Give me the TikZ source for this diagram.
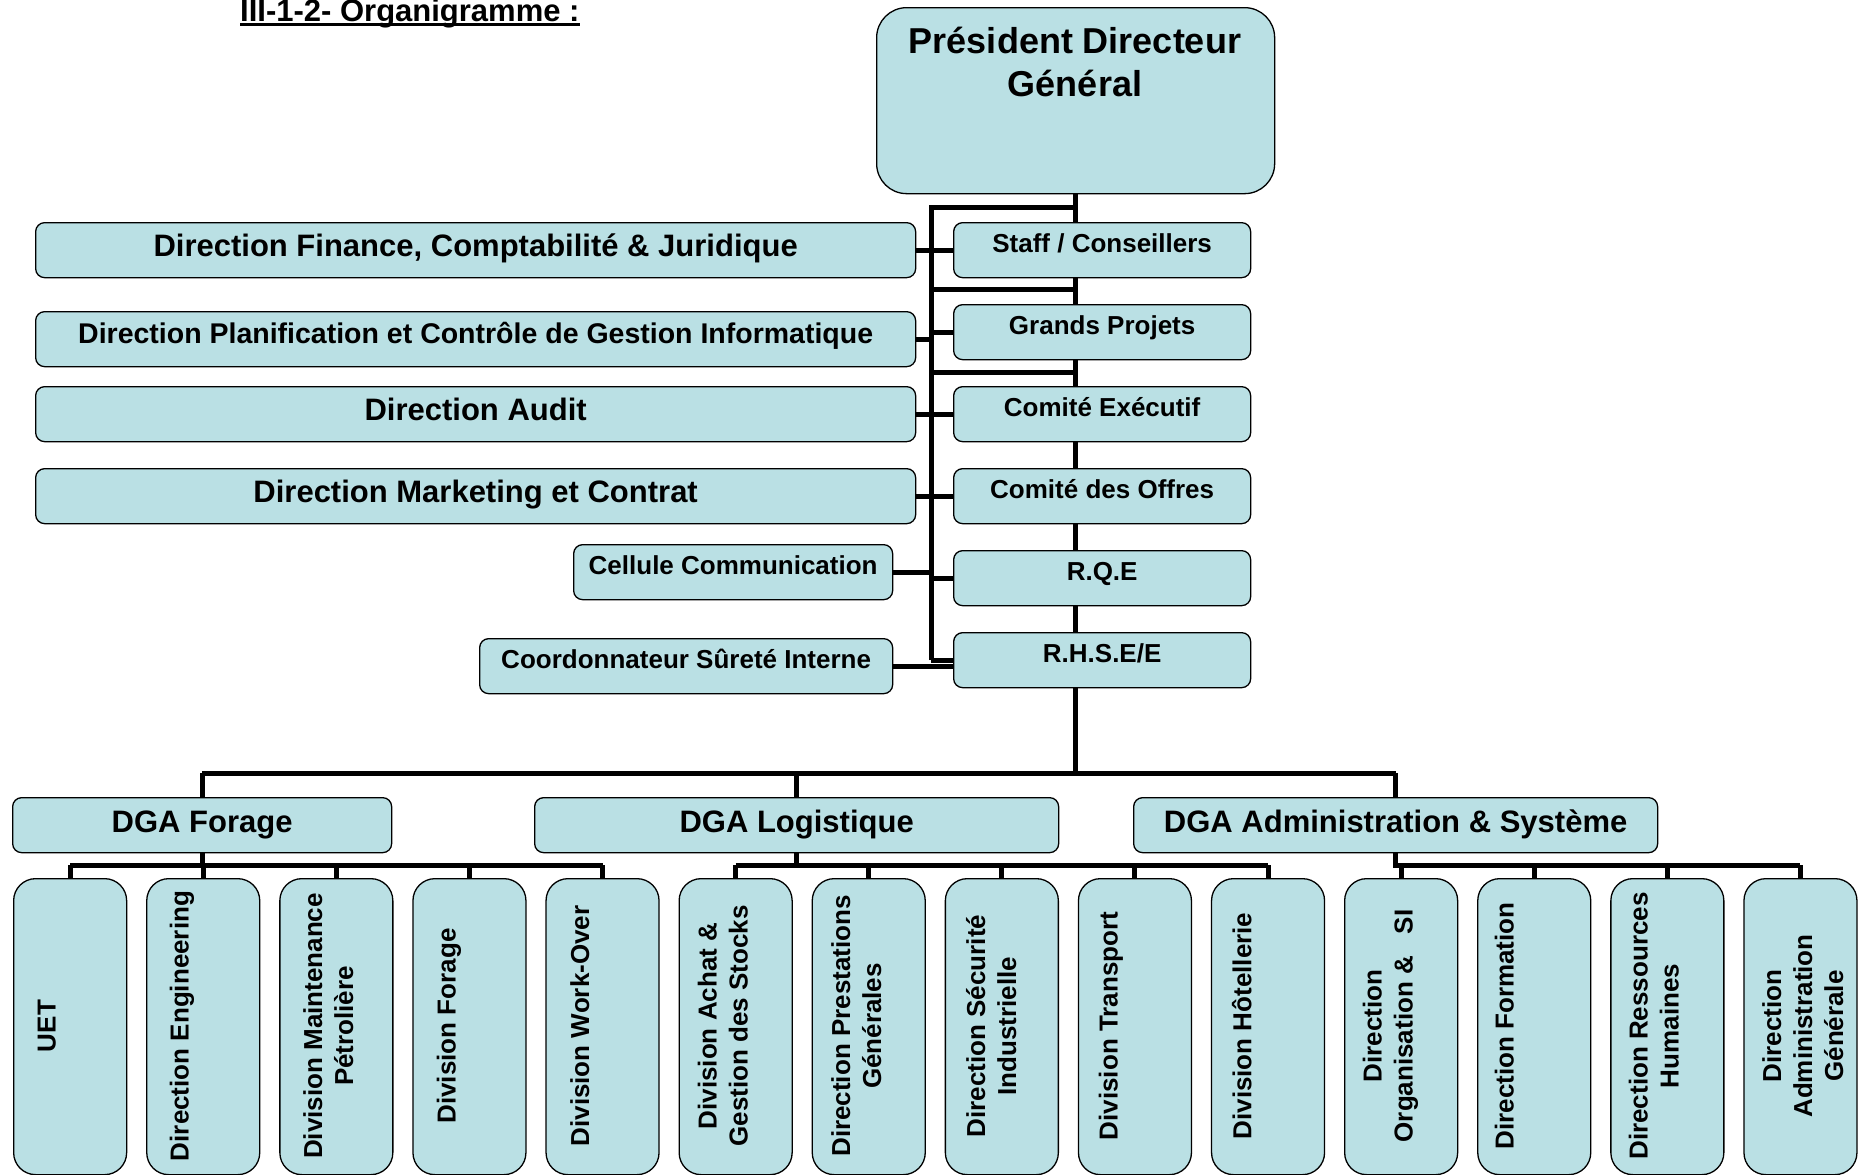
\documentclass[tikz,border=0pt]{standalone}
\usepackage{fontspec}
\setmainfont{Liberation Sans}
\usetikzlibrary{calc}
\definecolor{boxfill}{RGB}{186,224,228}
\pgfdeclarelayer{bg}
\pgfsetlayers{bg,main}
\newcommand\ulinetitle[1]{\setbox0\hbox{#1}\rlap{\rule[-4.5pt]{\wd0}{2.5pt}}\box0}
\begin{document}
\begin{tikzpicture}[x=1pt,y=-1pt,
  box/.style={draw=black, line width=1.3pt, fill=boxfill, inner sep=0pt, anchor=north west, rounded corners=9pt},
  f36/.style={font=\fontsize{36}{43}\selectfont\bfseries},
  f31/.style={font=\fontsize{31}{37}\selectfont\bfseries, text height=24pt, text depth=11.5pt},
  f28/.style={font=\fontsize{28.5}{34}\selectfont\bfseries, text height=22pt, text depth=12.5pt},
  f26/.style={font=\fontsize{26}{31}\selectfont\bfseries, text height=20pt, text depth=15.5pt},
  rbox/.style={box, minimum width=297pt, minimum height=55pt, f26},
  lbox/.style={box, minimum width=880pt, minimum height=55pt, f31},
  dbox/.style={box, minimum height=55pt, f31, text depth=9.5pt},
  cbox/.style={box, rounded corners=22pt, minimum width=113pt, minimum height=296pt},
  ctext/.style={font=\fontsize{26}{31}\selectfont\bfseries, rotate=90, anchor=north, inner sep=0pt, align=center},
  link/.style={line width=5pt}]
\useasboundingbox (0,0) rectangle (1861,1175);

% title
\node[anchor=base west, inner sep=0pt, font=\fontsize{31}{37}\selectfont\bfseries] (title) at (240,21) {\ulinetitle{III-1-2- Organigramme :}};

% PDG
\node[box, rounded corners=30pt, minimum width=398pt, minimum height=186pt] (pdg) at (876,7) {};
\node[f36, anchor=north, inner sep=0pt, align=center] (pdgt) at (1075,22.9) {\rule{0pt}{30pt}Président Directeur\\Général};

% right column
\node[rbox] (staff) at (953,222) {Staff / Conseillers};
\node[rbox] (gp)    at (953,304) {Grands Projets};
\node[rbox] (ce)    at (953,386) {Comité Exécutif};
\node[rbox] (co)    at (953,468) {Comité des Offres};
\node[rbox] (rqe)   at (953,550) {R.Q.E};
\node[rbox] (rhse)  at (953,632) {R.H.S.E/E};

% left column
\node[lbox] (fin)   at (35,222) {Direction Finance, Comptabilité \& Juridique};
\node[box, minimum width=880pt, minimum height=55pt, f28] (plan) at (35,311) {Direction Planification et Contrôle de Gestion Informatique};
\node[lbox] (audit) at (35,386) {Direction Audit};
\node[lbox] (mkt)   at (35,468) {Direction Marketing et Contrat};
\node[box, minimum width=319pt, minimum height=55pt, f26, text depth=16pt] (cell) at (573,544) {Cellule Communication};
\node[box, minimum width=413pt, minimum height=55pt, f26, text depth=16pt] (coord) at (479,638) {Coordonnateur Sûreté Interne};

% DGA
\node[dbox, minimum width=379pt] (dgaF) at (12,797) {DGA Forage};
\node[dbox, minimum width=524pt] (dgaL) at (534,797) {DGA Logistique};
\node[dbox, minimum width=524pt] (dgaA) at (1133,797) {DGA Administration \& Système};

% children boxes
\foreach \i in {1,...,14} {
  \node[cbox] (c\i) at ({13+133.1*(\i-1)},878) {};
}
\node[ctext] (t1)  at (31.3,1026)   {\rule{0pt}{24pt}UET};
\node[ctext] (t2)  at (164.3,1026)  {\rule{0pt}{24pt}Direction Engineering};
\node[ctext] (t3)  at (297.9,1026)  {\rule{0pt}{24pt}Division Maintenance\\Pétrolière};
\node[ctext] (t4)  at (431.3,1026)  {\rule{0pt}{24pt}Division Forage};
\node[ctext] (t5)  at (564.8,1026)  {\rule{0pt}{24pt}Division Work-Over};
\node[ctext] (t6)  at (692.3,1026)  {\rule{0pt}{24pt}Division Achat \&\\Gestion des Stocks};
\node[ctext] (t7)  at (825.8,1026)  {\rule{0pt}{24pt}Direction Prestations\\Générales};
\node[ctext] (t8)  at (961,1026)    {\rule{0pt}{24pt}Direction Sécurité\\Industrielle};
\node[ctext] (t9)  at (1093.3,1026) {\rule{0pt}{24pt}Division Transport};
\node[ctext] (t10) at (1227.1,1026) {\rule{0pt}{24pt}Division Hôtellerie};
\node[ctext] (t11) at (1357.3,1026) {\rule{0pt}{24pt}Direction\\Organisation \&\ \ \ SI};
\node[ctext] (t12) at (1489.3,1026) {\rule{0pt}{24pt}Direction Formation};
\node[ctext] (t13) at (1623.3,1026) {\rule{0pt}{24pt}Direction Ressources\\Humaines};
\node[ctext] (t14) at (1756.8,1026) {\rule{0pt}{24pt}Direction\\Administration\\Générale};

% connectors
\coordinate (lsT) at (931,207);
\coordinate (lsB) at (931,660);
\coordinate (j1) at (931,289);
\coordinate (j2) at (931,372);
\coordinate (busY) at (1075,773);
\coordinate (subY) at (0,865);
\begin{pgfonlayer}{bg}
\draw[link] (pdg.south) -- (pdg.south |- busY);
\draw[link] (lsB) -- (lsT) -- (lsT -| pdg.south);
\draw[link] (j1) -- (j1 -| pdg.south);
\draw[link] (j2) -- (j2 -| pdg.south);
\draw[link] (fin.east) -- (fin.east -| lsT);
\draw[link] (staff.west) -- (staff.west -| lsT);
\draw[link] (plan.east) -- (plan.east -| lsT);
\draw[link] (gp.west) -- (gp.west -| lsT);
\draw[link] (audit.east) -- (audit.east -| lsT);
\draw[link] (ce.west) -- (ce.west -| lsT);
\draw[link] (mkt.east) -- (mkt.east -| lsT);
\draw[link] (co.west) -- (co.west -| lsT);
\draw[link] (cell.east) -- (cell.east -| lsT);
\draw[link] (rqe.west) -- (rqe.west -| lsT);
\draw[link] (coord.east) -- (coord.east -| rhse.west);
\draw[link] (rhse.west) -- (rhse.west -| lsT);
% main bus
\draw[link] (dgaF.north |- busY) -- (dgaA.north |- busY);
\draw[link] (dgaF.north |- busY) -- (dgaF.north);
\draw[link] (dgaL.north |- busY) -- (dgaL.north);
\draw[link] (dgaA.north |- busY) -- (dgaA.north);
% sub buses
\draw[link] (dgaF.south) -- (dgaF.south |- subY);
\draw[link] (c1.north |- subY) -- (c5.north |- subY);
\draw[link] (dgaL.south) -- (dgaL.south |- subY);
\draw[link] (c6.north |- subY) -- (c10.north |- subY);
\draw[link] (dgaA.south) -- (dgaA.south |- subY) -- (c14.north |- subY);
\foreach \i in {1,...,14} {
  \draw[link] (c\i.north) -- (c\i.north |- subY);
}
\end{pgfonlayer}
\end{tikzpicture}
\end{document}
